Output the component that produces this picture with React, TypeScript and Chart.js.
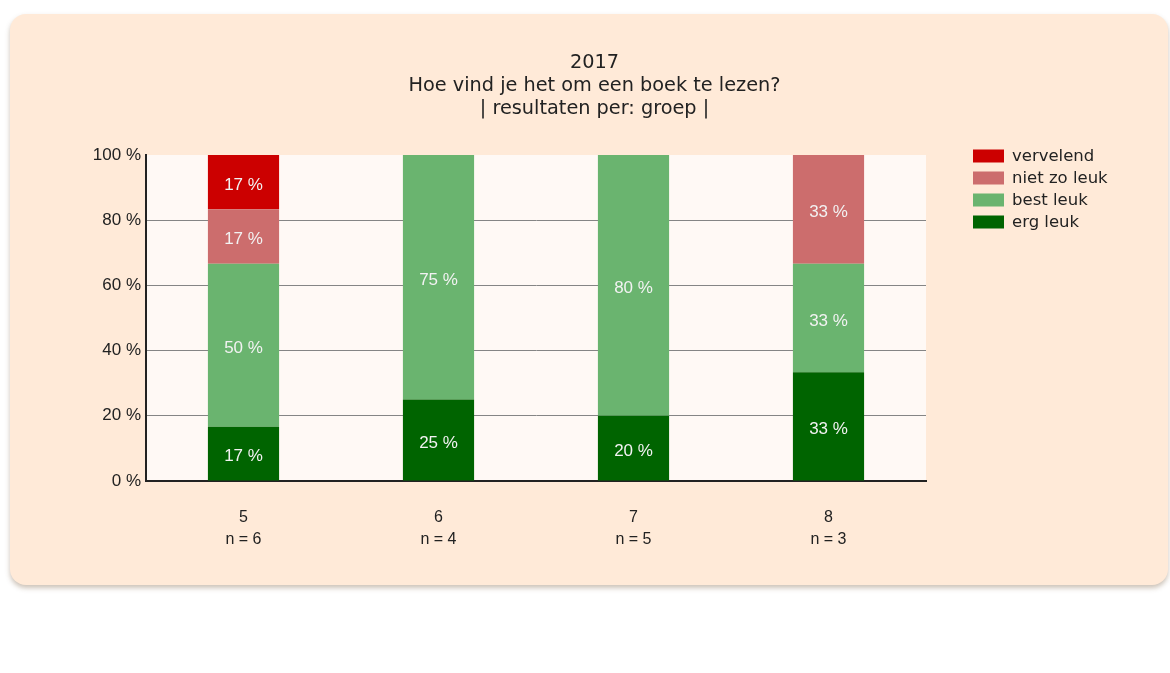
import React, { useEffect, useRef } from "react";
import { Chart, registerables } from "chart.js";

Chart.register(...registerables);

const titleLines = ["2017", "Hoe vind je het om een boek te lezen?", "| resultaten per: groep |"];
const groups = ["5", "6", "7", "8"];
const groupCounts = ["n = 6", "n = 4", "n = 5", "n = 3"];
const seriesNames = ["erg leuk", "best leuk", "niet zo leuk", "vervelend"];
const seriesColors = ["#006400", "#6ab46f", "#cc6d6d", "#cc0000"];
const ergLeuk = [16.67, 25, 20, 33.33];
const bestLeuk = [50, 75, 80, 33.33];
const nietZoLeuk = [16.67, 0, 0, 33.33];
const vervelend = [16.67, 0, 0, 0];
const yTickValues = [0, 20, 40, 60, 80, 100];

const W = 1158;
const H = 571;

const bgPlugin = {
  id: "plotBg",
  beforeDraw(chart: any) {
    const { ctx, chartArea } = chart;
    ctx.save();
    ctx.fillStyle = "#fff9f5";
    ctx.fillRect(chartArea.left, chartArea.top, chartArea.right - chartArea.left, chartArea.bottom - chartArea.top);
    ctx.restore();
  },
};

const valueLabelPlugin = {
  id: "valueLabels",
  afterDatasetsDraw(chart: any) {
    const { ctx } = chart;
    ctx.save();
    ctx.font = "17px 'Liberation Sans', Arial, sans-serif";
    ctx.fillStyle = "#f2f2f2";
    ctx.textAlign = "center";
    ctx.textBaseline = "middle";
    chart.data.datasets.forEach((ds: any, di: number) => {
      const meta = chart.getDatasetMeta(di);
      meta.data.forEach((el: any, i: number) => {
        const v = ds.data[i];
        if (!v) return;
        ctx.fillText(Math.round(v) + " %", el.x, (el.y + el.base) / 2 + 3);
      });
    });
    ctx.restore();
  },
};

const titleLegendPlugin = {
  id: "titleLegend",
  afterDraw(chart: any) {
    const { ctx, chartArea } = chart;
    ctx.save();
    ctx.fillStyle = "#222";
    ctx.textAlign = "center";
    ctx.textBaseline = "middle";
    ctx.font = "19.3px 'DejaVu Sans', Verdana, sans-serif";
    titleLines.forEach((t, i) => ctx.fillText(t, 584.5, 49 + i * 23));

    // legend
    const ds = chart.data.datasets.slice().reverse();
    const x0 = chartArea.right + 47;
    ctx.textAlign = "left";
    ctx.font = "16.5px 'DejaVu Sans', Verdana, sans-serif";
    ds.forEach((d: any, i: number) => {
      const cy = chartArea.top + 1 + i * 22;
      ctx.fillStyle = d.backgroundColor;
      ctx.fillRect(x0, cy - 6.5, 31, 13);
      ctx.fillStyle = "#222";
      ctx.fillText(d.label, x0 + 39, cy + 1);
    });
    ctx.restore();
  },
};

export default function App() {
  const ref = useRef<HTMLCanvasElement | null>(null);

  useEffect(() => {
    if (!ref.current) return;
    const seriesData = [ergLeuk, bestLeuk, nietZoLeuk, vervelend];
    const chart = new Chart(ref.current, {
      type: "bar",
      data: {
        labels: groups.map((g, i) => [g, groupCounts[i]]),
        datasets: seriesNames.map((name, i) => ({
          label: name,
          data: seriesData[i],
          backgroundColor: seriesColors[i],
          borderWidth: 0,
          categoryPercentage: 1,
          barPercentage: 0.365,
        })),
      },
      options: {
        responsive: false,
        animation: false,
        layout: { padding: { top: 141, left: 76, right: 242, bottom: 0 } },
        plugins: {
          legend: { display: false },
          title: { display: false },
          tooltip: { enabled: false },
        },
        scales: {
          x: {
            stacked: true,
            grid: { display: false, drawTicks: false },
            border: { display: true, color: "#222", width: 2 },
            ticks: {
              padding: 26,
              color: "#222",
              font: { family: "'Liberation Sans Narrow', 'Liberation Sans', Arial, sans-serif", size: 16, lineHeight: 1.375 },
            },
            afterFit: (s: any) => {
              s.height = 104;
            },
          },
          y: {
            stacked: true,
            min: 0,
            max: 100,
            afterBuildTicks: (s: any) => {
              s.ticks = yTickValues.map((v) => ({ value: v }));
            },
            grid: {
              drawTicks: false,
              color: (c: any) => (c.tick && (c.tick.value === 100 || c.tick.value === 0) ? "rgba(0,0,0,0)" : "#858585"),
              lineWidth: 1,
            },
            border: { display: true, color: "#222", width: 2 },
            ticks: {
              padding: 5,
              color: "#222",
              font: { family: "'Liberation Sans', Arial, sans-serif", size: 17 },
              callback: (v: any) => v + " %",
            },
            afterFit: (s: any) => {
              s.width = 60;
            },
          },
        },
      },
      plugins: [bgPlugin, valueLabelPlugin, titleLegendPlugin],
    });
    return () => chart.destroy();
  }, []);

  return (
    <div
      style={{
        position: "absolute",
        left: 10,
        top: 14,
        width: W,
        height: H,
        borderRadius: 16,
        background: "#ffead8",
        boxShadow: "0 3px 5px rgba(110,80,50,0.35)",
      }}
    >
      <canvas ref={ref} width={W} height={H} style={{ display: "block", width: W, height: H }} />
    </div>
  );
}
